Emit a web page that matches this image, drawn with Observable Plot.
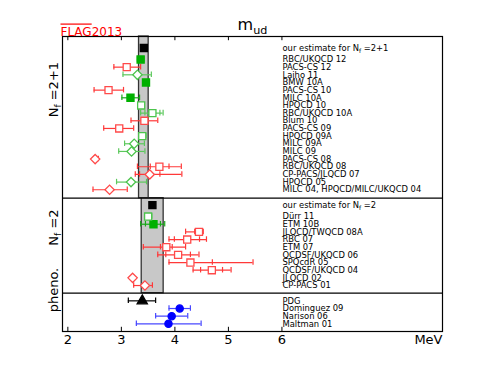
<!DOCTYPE html>
<html><head><meta charset="utf-8">
<script src="https://cdn.jsdelivr.net/npm/d3@7"></script>
<script src="https://cdn.jsdelivr.net/npm/@observablehq/plot@0.6"></script>
<style>body{margin:0;background:#fff;} svg{display:block;}</style>
</head><body><div id="chart"></div>
<script>
// ---------- data ----------
const xTicks = [2, 3, 4, 5, 6];
const panelLabels = ["N_f =2+1", "N_f =2", "pheno."];

const estimateLabels = ["our estimate for N_f =2+1", "our estimate for N_f =2"];
const estimateValues = [3.42, 3.58];
const estimateLo = [3.33, 3.38];
const estimateHi = [3.51, 3.79];

const nf21Names = ["RBC/UKQCD 12", "PACS-CS 12", "Laiho 11", "BMW 10A", "PACS-CS 10", "MILC 10A", "HPQCD 10", "RBC/UKQCD 10A", "Blum 10", "PACS-CS 09", "HPQCD 09A", "MILC 09A", "MILC 09", "PACS-CS 08", "RBC/UKQCD 08", "CP-PACS/JLQCD 07", "HPQCD 05", "MILC 04, HPQCD/MILC/UKQCD 04"];
const nf21Values = [3.36, 3.10, 3.30, 3.46, 2.76, 3.17, 3.37, 3.58, 3.43, 2.96, 3.39, 3.24, 3.19, 2.51, 3.71, 3.53, 3.18, 2.78];
const nf21Lo     = [3.30, 2.86, 3.03, 3.41, 2.49, 3.01, 3.32, 3.36, 3.18, 2.67, 3.33, 3.06, 2.95, 2.48, 3.30, 3.26, 2.91, 2.47];
const nf21Hi     = [3.42, 3.36, 3.56, 3.52, 3.04, 3.34, 3.43, 3.78, 3.68, 3.23, 3.46, 3.43, 3.44, 2.57, 4.12, 4.13, 3.47, 3.11];
const nf21StatLo = [null, null, null, null, null, null, null, 3.44, null, null, null, null, null, null, 3.54, 3.34, null, null];
const nf21StatHi = [null, null, null, null, null, null, null, 3.72, null, null, null, null, null, null, 3.89, 3.72, null, null];
const nf21Kind   = ["gf", "rs", "gd", "gf", "rs", "gf", "gs", "gs", "rs", "rs", "gs", "gd", "gd", "rd", "rs", "rd", "gd", "rd"];

const nf2Names  = ["Dürr 11", "ETM 10B", "JLQCD/TWQCD 08A", "RBC 07", "ETM 07", "QCDSF/UKQCD 06", "SPQcdR 05", "QCDSF/UKQCD 04", "JLQCD 02", "CP-PACS 01"];
const nf2Values = [3.50, 3.60, 4.45, 4.23, 3.84, 4.06, 4.29, 4.69, 3.21, 3.44];
const nf2Lo     = [3.44, 3.36, 4.20, 3.89, 3.41, 3.68, 3.89, 4.34, 3.20, 3.23];
const nf2Hi     = [3.57, 3.81, 4.53, 4.59, 4.20, 4.45, 5.46, 5.05, 3.23, 3.58];
const nf2StatLo = [null, 3.45, 4.37, 3.99, 3.73, 3.83, null, 4.48, null, null];
const nf2StatHi = [null, 3.73, null, 4.46, 3.95, 4.29, 4.70, 4.89, null, null];
const nf2Kind   = ["gs", "gf", "rs", "rs", "rs", "rs", "rs", "rs", "rd", "rd"];

const phenoNames  = ["PDG", "Dominguez 09", "Narison 06", "Maltman 01"];
const phenoValues = [3.39, 4.09, 3.94, 3.88];
const phenoLo     = [3.13, 3.89, 3.64, 3.28];
const phenoHi     = [3.64, 4.29, 4.24, 4.49];
const phenoKind   = ["kt", "bc", "bc", "bc"];

// ---------- layout (row units, top = 0) ----------
const ROW_START = [3, 23.5, 34.5];
const EST_ROW = [1.5, 22.0];
const PANELS = [[0, 21.1], [21.1, 33.5], [33.5, 38.5]];
const Y_MAX = 38.5;
const CAP = 0.36;

function group(names, vals, lo, hi, slo, shi, kinds, start) {
  return names.map((n, i) => ({name: n, x: vals[i], lo: lo[i], hi: hi[i],
    slo: slo ? slo[i] : null, shi: shi ? shi[i] : null, kind: kinds[i], y: start + i}));
}
const rows = [
  ...group(nf21Names, nf21Values, nf21Lo, nf21Hi, nf21StatLo, nf21StatHi, nf21Kind, ROW_START[0]),
  ...group(nf2Names, nf2Values, nf2Lo, nf2Hi, nf2StatLo, nf2StatHi, nf2Kind, ROW_START[1]),
  ...group(phenoNames, phenoValues, phenoLo, phenoHi, null, null, phenoKind, ROW_START[2])
];
const estimates = estimateLabels.map((l, i) => ({name: l, x: estimateValues[i], lo: estimateLo[i], hi: estimateHi[i],
  y: EST_ROW[i], y1: PANELS[i][0], y2: PANELS[i][1], kind: "ks"}));

const STY = {
  gf: {symbol: "square", fill: "#00b000", stroke: "#00b000", bar: "#1aa81a"},
  gs: {symbol: "square", fill: "white", stroke: "#4cc44c", bar: "#5cc85c"},
  gd: {symbol: "diamond2", fill: "white", stroke: "#4cc44c", bar: "#5cc85c"},
  rs: {symbol: "square", fill: "white", stroke: "#ff4a4a", bar: "#ff3838"},
  rd: {symbol: "diamond2", fill: "white", stroke: "#ff4a4a", bar: "#ff3838"},
  bc: {symbol: "circle", fill: "#0000ff", stroke: "#0000ff", bar: "#4848ff"},
  kt: {symbol: "triangle", fill: "black", stroke: "black", bar: "black"},
  ks: {symbol: "square", fill: "black", stroke: "black", bar: "black"}
};
const R = {square: 4, diamond2: 4.2, circle: 3.6, triangle: 3.8};
const LABEL_FS = 8.4;

const marks = [];
marks.push(Plot.rect(estimates, {x1: "lo", x2: "hi", y1: "y1", y2: "y2", fill: "#c8c8c8", stroke: "#333", strokeWidth: 1.3}));
marks.push(Plot.ruleY(PANELS.slice(1).map(p => p[0]), {stroke: "black", strokeWidth: 1.2}));
marks.push(Plot.ruleX(xTicks, {x: d => d, y1: 0, y2: 0.55, stroke: "black"}));
marks.push(Plot.ruleX(xTicks, {x: d => d, y1: Y_MAX, y2: Y_MAX - 0.55, stroke: "black"}));

for (const k of Object.keys(STY)) {
  const s = STY[k];
  const d = rows.filter(r => r.kind === k && r.lo != null);
  if (!d.length) continue;
  marks.push(Plot.ruleY(d, {x1: "lo", x2: "hi", y: "y", stroke: s.bar, strokeWidth: 1.2}));
  marks.push(Plot.ruleX(d, {x: "lo", y1: r => r.y - CAP, y2: r => r.y + CAP, stroke: s.bar, strokeWidth: 1.2}));
  marks.push(Plot.ruleX(d, {x: "hi", y1: r => r.y - CAP, y2: r => r.y + CAP, stroke: s.bar, strokeWidth: 1.2}));
  const sl = d.filter(r => r.slo != null), sh = d.filter(r => r.shi != null);
  marks.push(Plot.ruleX(sl, {x: "slo", y1: r => r.y - CAP, y2: r => r.y + CAP, stroke: s.bar, strokeWidth: 1.2}));
  marks.push(Plot.ruleX(sh, {x: "shi", y1: r => r.y - CAP, y2: r => r.y + CAP, stroke: s.bar, strokeWidth: 1.2}));
}
for (const k of Object.keys(STY)) {
  const s = STY[k];
  const d = k === "ks" ? estimates : rows.filter(r => r.kind === k);
  marks.push(Plot.dot(d, {x: "x", y: "y", symbol: s.symbol, r: R[s.symbol], fill: s.fill, stroke: s.stroke, strokeWidth: 1.3}));
}
marks.push(Plot.text(rows, {y: "y", text: "name", frameAnchor: "left", dx: 220, textAnchor: "start", fontSize: LABEL_FS}));
marks.push(Plot.text(estimates, {y: "y", text: "name", frameAnchor: "left", dx: 220, textAnchor: "start", fontSize: LABEL_FS}));
marks.push(Plot.text(panelLabels, {y: (d, i) => (PANELS[i][0] + PANELS[i][1]) / 2, text: d => d, frameAnchor: "left", dx: -9, rotate: -90, fontSize: 13}));
marks.push(Plot.frame({stroke: "black", strokeWidth: 1.2}));
marks.push(Plot.axisX(xTicks, {anchor: "bottom", tickSize: 0, tickPadding: 3, fontSize: 13}));
marks.push(Plot.text(["MeV"], {text: d => d, frameAnchor: "bottom-right", textAnchor: "end", lineAnchor: "top", dy: 3, fontSize: 13}));
marks.push(Plot.text(["m_ud"], {text: d => d, frameAnchor: "top", lineAnchor: "bottom", dy: -7, fontSize: 16}));
marks.push(Plot.text(["FLAG2013"], {text: d => d, frameAnchor: "top-left", textAnchor: "start", lineAnchor: "bottom", dy: -1, dx: -2, fill: "#ff0000", fontSize: 12}));

const plot = Plot.plot({
  width: 491, height: 368,
  marginTop: 36, marginRight: 49, marginBottom: 37, marginLeft: 62,
  style: {fontFamily: "DejaVu Sans, sans-serif", fontSize: "9px", background: "white"},
  x: {domain: [1.9, 9], axis: null},
  y: {domain: [Y_MAX, 0], axis: null},
  marks
});
document.getElementById("chart").appendChild(plot);

// subscripts and overline
d3.select(plot).selectAll("text").each(function () {
  const t = this.textContent;
  const fs = parseFloat(getComputedStyle(this).fontSize) || 9;
  const el = d3.select(this);
  if (t === "FLAG2013") {
    el.text(null);
    el.append("tspan").text("FLAG").style("text-decoration", "overline");
    el.append("tspan").text("2013");
    return;
  }
  const m = t.match(/^(.*?)_(\w+)(.*)$/);
  if (!m) return;
  el.text(null);
  const sh = fs * 0.28;
  el.append("tspan").text(m[1]);
  el.append("tspan").text(m[2]).attr("font-size", fs * 0.7).attr("dy", sh);
  if (m[3]) el.append("tspan").text(m[3]).attr("dy", -sh);
});
</script>
</body></html>
